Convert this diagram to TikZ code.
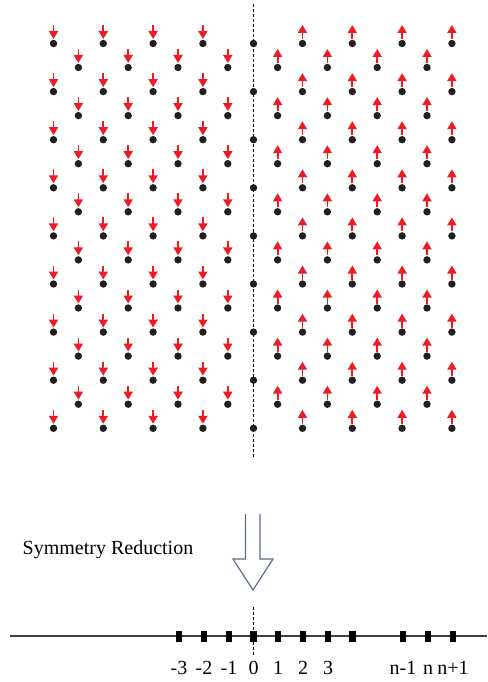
\documentclass[tikz,border=0pt]{standalone}
\usepackage{fontspec}
\setmainfont{Liberation Serif}
\usetikzlibrary{arrows.meta}

\definecolor{spinred}{HTML}{ED1C24}
\definecolor{sitedot}{HTML}{231F20}
\definecolor{reduce}{HTML}{5B6F8E}

\tikzset{
  spindown/.style={spinred,line width=1.8pt,-{Triangle[width=9pt,length=8pt]}},
  spinup/.style={spinred,line width=1.8pt,-{Triangle[width=9pt,length=8pt]}},
  site/.style={sitedot},
  mirror/.style={black,line width=0.8pt,dash pattern=on 3pt off 2pt},
  chainsite/.style={fill=black,minimum width=6.5pt,minimum height=11pt,inner sep=0pt},
  chainlabel/.style={anchor=base,inner sep=0pt,font=\fontsize{20}{24}\selectfont}
}

\begin{document}
\begin{tikzpicture}[x=1pt,y=-1pt]
  \useasboundingbox (0,0) rectangle (487,682);

  % mirror line of the lattice
  \draw[mirror] (253.5,4) -- (253.5,458);

  % left half: spins down
  \foreach \i in {0,...,7}{
    \pgfmathsetmacro{\xx}{53.5+24.9*\i}
    \pgfmathtruncatemacro{\odd}{mod(\i,2)}
    \ifnum\odd=0
      \foreach \k in {0,...,8}{
        \pgfmathsetmacro{\yy}{43.5+48.1*\k}
        \draw[spindown] (\xx,\yy-18.5) -- (\xx,\yy-4.5);
        \fill[site] (\xx,\yy) circle(3.7);
      }
    \else
      \foreach \k in {0,...,7}{
        \pgfmathsetmacro{\yy}{67.5+48.1*\k}
        \draw[spindown] (\xx,\yy-18.5) -- (\xx,\yy-4.5);
        \fill[site] (\xx,\yy) circle(3.7);
      }
    \fi
  }

  % centre column: no spin
  \foreach \k in {0,...,8}{
    \fill[site] (253.5,43.5+48.1*\k) circle(3.7);
  }

  % right half: spins up
  \foreach \i in {9,...,16}{
    \pgfmathsetmacro{\xx}{53.5+24.9*\i}
    \pgfmathtruncatemacro{\odd}{mod(\i,2)}
    \ifnum\odd=0
      \foreach \k in {0,...,8}{
        \pgfmathsetmacro{\yy}{43.5+48.1*\k}
        \draw[spinup] (\xx,\yy-4.5) -- (\xx,\yy-18.5);
        \fill[site] (\xx,\yy) circle(3.7);
      }
    \else
      \foreach \k in {0,...,7}{
        \pgfmathsetmacro{\yy}{67.5+48.1*\k}
        \draw[spinup] (\xx,\yy-4.5) -- (\xx,\yy-18.5);
        \fill[site] (\xx,\yy) circle(3.7);
      }
    \fi
  }

  % reduction arrow
  \node[anchor=base west,inner sep=0pt,font=\fontsize{20}{24}\selectfont] (reduction) at (22.5,554) {Symmetry Reduction};
  \draw[reduce,line width=1.2pt,line join=miter]
    (245.5,514) -- (245.5,559) -- (233,559) -- (253,590) -- (273,559) -- (260,559) -- (260,514);

  % one-dimensional chain
  \coordinate (chainL) at (10,636);
  \coordinate (chainR) at (487,636);
  \draw[black!75,line width=1.3pt] (chainL) -- (chainR);
  \draw[mirror] (253.5,607) -- (253.5,655);
  \foreach \xx/\lab/\nm in {179/-3/m3,204/-2/m2,229/-1/m1,253.5/0/s0,278/1/s1,303/2/s2,328/3/s3,
                            403/n-1/nm1,428/n/n0,453/n+1/np1}{
    \node[chainsite] (site\nm) at (\xx,636) {};
    \node[chainlabel] (lab\nm) at (\xx,674) {\lab};
  }
  \node[chainsite] (siteextra) at (352.5,636) {};
\end{tikzpicture}
\end{document}
